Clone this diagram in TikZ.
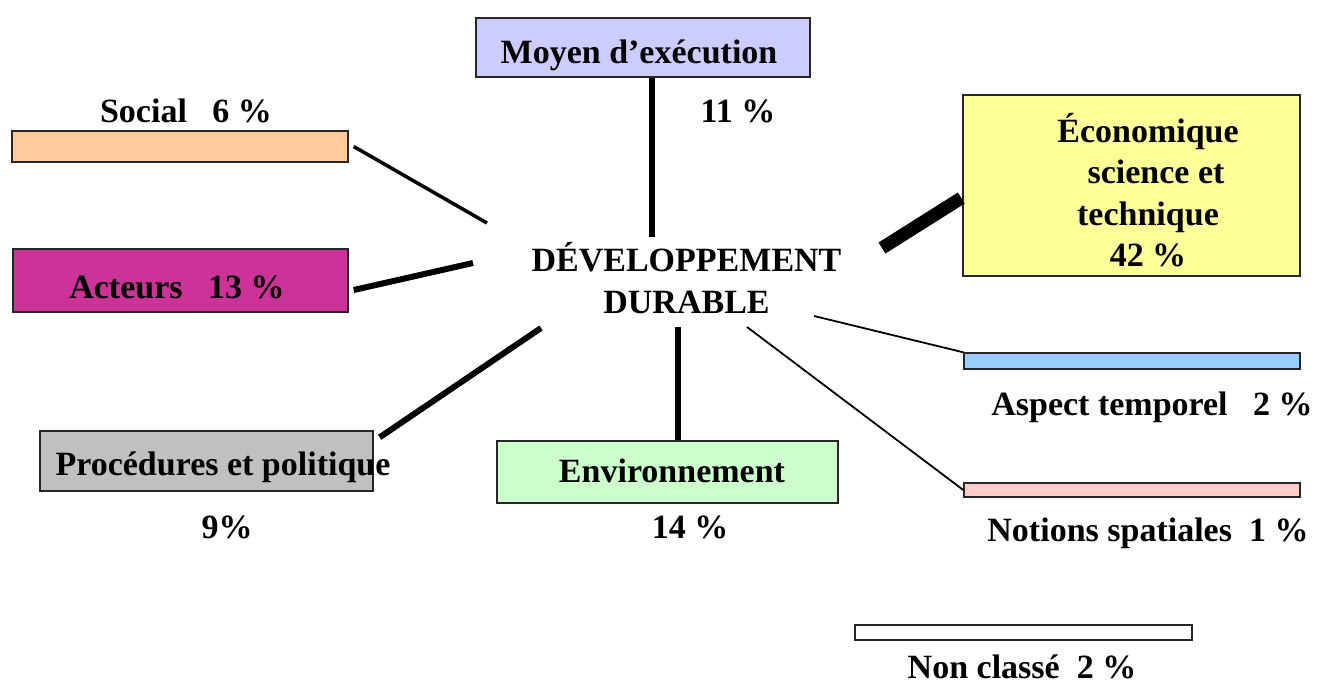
\documentclass[tikz,border=0pt]{standalone}
\usepackage{fontspec}
\setmainfont{Liberation Serif}
\usetikzlibrary{positioning}
\definecolor{moyenbleu}{RGB}{204,204,255}
\definecolor{socialpeche}{RGB}{255,204,153}
\definecolor{acteursrose}{RGB}{204,51,153}
\definecolor{ecojaune}{RGB}{255,255,153}
\definecolor{tempbleu}{RGB}{153,204,255}
\definecolor{procgris}{RGB}{192,192,192}
\definecolor{envvert}{RGB}{204,255,204}
\definecolor{spatrose}{RGB}{255,204,204}

\begin{document}
\begin{tikzpicture}[x=1pt,y=-1pt,font=\bfseries\fontsize{34}{42.5}\selectfont,
  box/.style={draw=black!85,line width=1.4pt,inner sep=0pt},
  lbl/.style={inner sep=0pt,anchor=base},
  link/.style={line width=#1,line cap=butt}]
\useasboundingbox (0,0) rectangle (1323,686);
% boxes
\node[box,fill=moyenbleu,minimum width=334,minimum height=59] (moyen) at (643,47.5) {};
\node[box,fill=socialpeche,minimum width=336,minimum height=31] (soc) at (180,146.5) {};
\node[box,fill=acteursrose,minimum width=335,minimum height=63] (act) at (180.5,280.5) {};
\node[box,fill=ecojaune,minimum width=337,minimum height=181] (eco) at (1131.5,185.5) {};
\node[box,fill=tempbleu,minimum width=336,minimum height=16] (temp) at (1132,361) {};
\node[box,fill=procgris,minimum width=333,minimum height=60] (proc) at (206.5,461) {};
\node[box,fill=envvert,minimum width=341,minimum height=62] (env) at (667.5,472) {};
\node[box,fill=spatrose,minimum width=336,minimum height=14] (spat) at (1132,490) {};
\node[box,fill=white,minimum width=337,minimum height=15] (nc) at (1023.5,632.5) {};
% labels
\node[inner sep=0pt,align=center] (dd) at (686.5,278) {DÉVELOPPEMENT\\DURABLE};
\node[lbl] (moyen-l) at (639,63) {Moyen d’exécution};
\node[lbl] (moyen-p) at (738,122) {11~\%};
\node[lbl] (soc-l) at (186,122) {Social~~~6~\%};
\node[lbl] (act-l) at (177,298) {Acteurs~~~13~\%};
\node[inner sep=0pt,align=center,font=\bfseries\fontsize{34}{41.3}\selectfont] (eco-l) at (1148,190)
  {Économique\\\hspace*{16pt}science et\\technique\\42~\%};
\node[lbl] (temp-l) at (1152,415) {Aspect temporel~~~2~\%};
\node[lbl] (proc-l) at (223,475) {Procédures et politique};
\node[lbl] (proc-p) at (227,538) {9\%};
\node[lbl] (env-l) at (672,482) {Environnement};
\node[lbl] (env-p) at (690,538) {14~\%};
\node[lbl] (spat-l) at (1148,541) {Notions spatiales~~1~\%};
\node[lbl] (nc-l) at (1022,678) {Non classé~~2~\%};
% hub ends
\coordinate (h-moyen) at (652,237);
\coordinate (h-soc) at (487,223);
\coordinate (h-act) at (473,263);
\coordinate (h-eco) at (882,248);
\coordinate (h-temp) at (814,316);
\coordinate (h-spat) at (747,327);
\coordinate (h-proc) at (541,328);
\coordinate (h-env) at (678,327);
% connectors
\draw[link=6pt] (moyen.south -| h-moyen) -- (h-moyen);
\draw[link=3.5pt] ([xshift=5pt]soc.east) -- (h-soc);
\draw[link=6pt] ([shift={(5,9.5)}]act.east) -- (h-act);
\draw[link=13pt] (h-eco) -- ([shift={(-1,12.5)}]eco.west);
\draw[link=1.8pt] (h-temp) -- (temp.north west);
\draw[link=1.8pt] (h-spat) -- (spat.west);
\draw[link=6pt] ([shift={(6,7)}]proc.north east) -- (h-proc);
\draw[link=6pt] (h-env) -- (env.north -| h-env);
\end{tikzpicture}
\end{document}
